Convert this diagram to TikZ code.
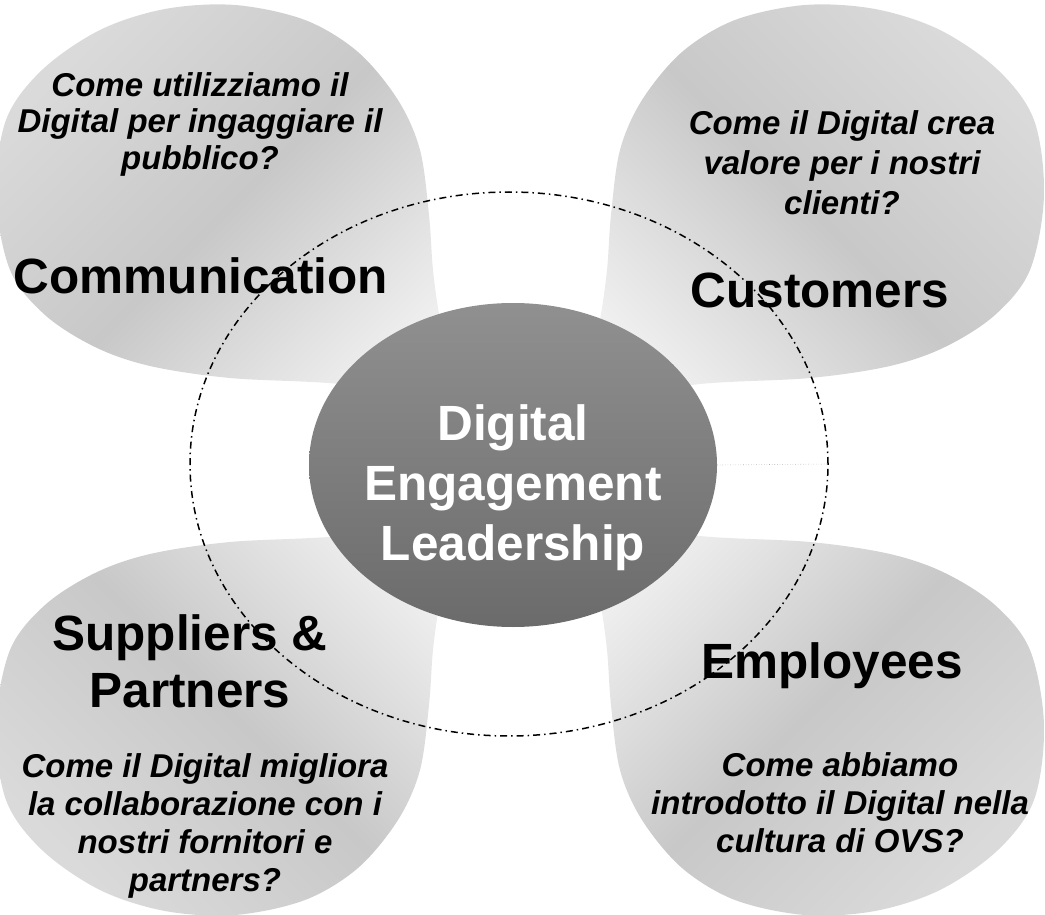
\documentclass[tikz,border=0pt]{standalone}
\usepackage{fontspec}
\setmainfont{Liberation Sans}
\usetikzlibrary{shapes.geometric}
\definecolor{petalout}{HTML}{DADADA}
\definecolor{petalmid}{HTML}{C8C8C8}
\definecolor{petalin}{HTML}{EFEFEF}
\definecolor{coretop}{HTML}{909090}
\definecolor{corebot}{HTML}{6B6B6B}
\tikzset{petalshade/.style={top color=petalout, bottom color=petalin, middle color=petalmid},
  headline/.style={font=\fontsize{49.5}{57}\selectfont\bfseries, align=center},
  question/.style={font=\fontsize{33}{#1}\selectfont\bfseries\itshape, align=center},
  question/.default=38,
  ring/.style={ellipse, draw, line width=1.5pt, dash pattern=on 7pt off 4pt on 1.5pt off 4pt, minimum width=638pt, minimum height=544pt, inner sep=0pt},
  core/.style={ellipse, top color=coretop, bottom color=corebot, minimum width=408pt, minimum height=324pt, inner sep=0pt},
  coretext/.style={font=\fontsize{49.5}{60}\selectfont\bfseries, text=white, align=center},
  link/.style={draw=black!30, dotted, line width=0.6pt}}
\newcommand{\petal}[1]{\shade[petalshade, #1] plot[smooth cycle, tension=0.55] coordinates {(455,400) (340,384) (230,378) (150,366) (95,347) (45,315) (10,270) (-4,195) (6,120) (42,70) (100,30) (165,9) (235,5) (305,20) (358,52) (398,100) (420,150) (429,215) (433,270) (440,320)};}

\begin{document}
\begin{tikzpicture}[x=1pt, y=-1pt]
\useasboundingbox (0,0) rectangle (1045,915);
\clip (0,0) rectangle (1045,915);
\petal{shading angle=45}
\begin{scope}[shift={(1040,0)}, xscale=-1] \petal{shading angle=-45} \end{scope}
\begin{scope}[shift={(0,920)}, yscale=-1] \petal{shading angle=135} \end{scope}
\begin{scope}[shift={(1040,920)}, xscale=-1, yscale=-1] \petal{shading angle=-135} \end{scope}
\node[ring] (ring) at (509,464) {};
\node[core] (core) at (513,465) {};
\draw[link] (core.east) -- (ring.east);
\node[coretext] (corelabel) at (513,487.5) {Digital\\Engagement\\Leadership};
\node[headline, anchor=base] (comm) at (201,293) {Communication};
\node[headline, anchor=base] (cust) at (820,307) {Customers};
\node[headline] (supp) at (190,661) {Suppliers \&\\Partners};
\node[headline, anchor=base] (empl) at (832,678) {Employees};
\node[question=36.5] (qcomm) at (200,124) {Come utilizziamo il\\Digital per ingaggiare il\\pubblico?};
\node[question=40] (qcust) at (842,163) {Come il Digital crea\\valore per i nostri\\clienti?};
\node[question] (qsupp) at (205,825.5) {Come il Digital migliora\\la collaborazione con i\\nostri fornitori e\\partners?};
\node[question] (qempl) at (840,803) {Come abbiamo\\introdotto il Digital nella\\cultura di OVS?};
\end{tikzpicture}
\end{document}
